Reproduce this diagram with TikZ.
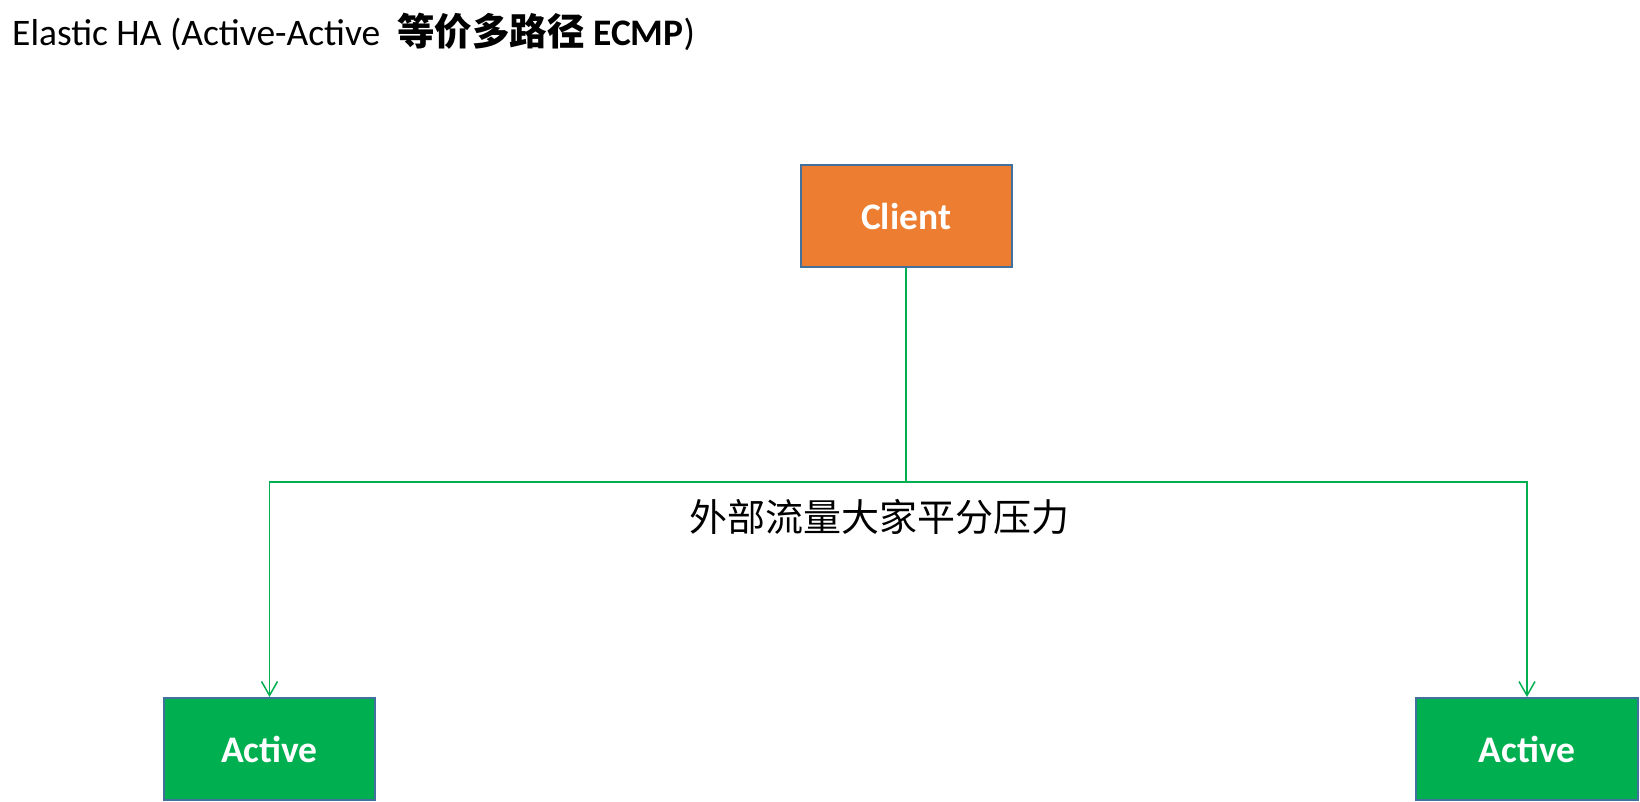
\documentclass[tikz,border=0pt]{standalone}
\usepackage{fontspec}
\setmainfont{Carlito}
\newfontfamily\cjk{Noto Sans CJK SC}
\usetikzlibrary{arrows.meta, positioning}
\definecolor{clientorange}{HTML}{ED7D31}
\definecolor{activegreen}{HTML}{00B050}
\definecolor{boxblue}{HTML}{41719C}

\begin{document}
\begin{tikzpicture}[x=1pt, y=-1pt,
    box/.style={draw=boxblue, line width=2pt, text=white, inner sep=0pt,
        font=\fontsize{37.5}{40}\selectfont\bfseries, minimum height=102pt},
    wire/.style={draw=activegreen, line width=1.5pt},
    link/.style={wire, -{Straight Barb[length=14pt,width=16pt]}}]
        \useasboundingbox (0,0) rectangle (1640,802);

        \node[anchor=base west, inner sep=0pt, font=\fontsize{37.5}{40}\selectfont] (title) at (12,46)
            {Elastic HA (Active-Active\ \ {\cjk\bfseries 等价多路径} \textbf{ECMP})};

        \node[box, fill=clientorange, minimum width=211pt] (client) at (906,216) {Client};
        \node[box, fill=activegreen, minimum width=211pt] (left) at (269.5,749) {Active};
        \node[box, fill=activegreen, minimum width=222pt] (right) at (1527,749) {Active};

        \coordinate (fork) at (906,482);
        \node[font=\cjk\fontsize{38}{40}\selectfont] (share) at (879,517) {外部流量大家平分压力};

        \draw[wire] (client) -- (fork);
        \draw[link] (fork) -| (left);
        \draw[link] (fork) -| (right);
\end{tikzpicture}
\end{document}
